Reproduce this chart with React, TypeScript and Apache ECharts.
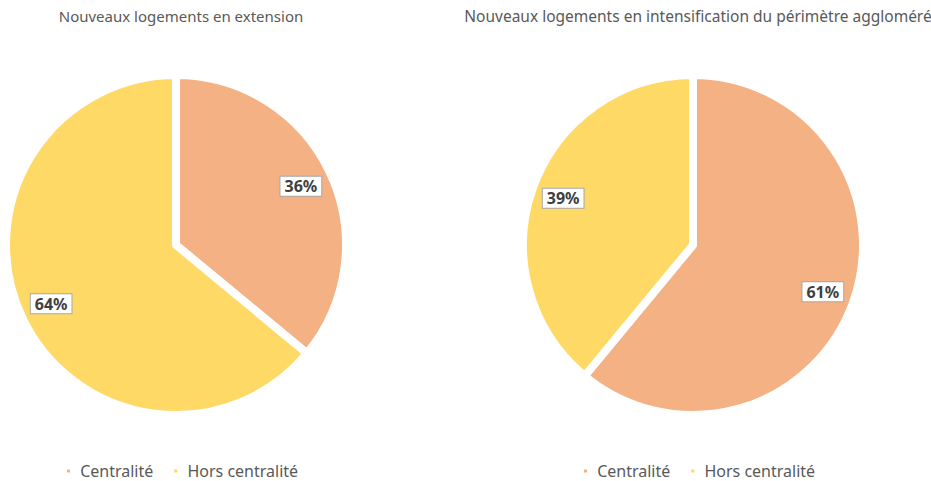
import React, { useEffect, useRef } from "react";
import * as echarts from "echarts";

const categories = ["Centralité", "Hors centralité"];
const extensionValues = [36, 64];
const intensificationValues = [61, 39];
const titles = ["Nouveaux logements en extension", "Nouveaux logements en intensification du périmètre aggloméré"];
const colors = ["#F4B183", "#FFD966"];

export default function App() {
  const ref = useRef<HTMLDivElement>(null);
  useEffect(() => {
    document.body.style.margin = "0";
    const chart = echarts.init(ref.current!, null, { renderer: "svg" });
    const font = "'Noto Sans', sans-serif";
    const mk = (vals: number[]) => categories.map((c, i) => ({ name: c, value: vals[i] }));
    const pies = [
      { center: [176, 245], vals: extensionValues },
      { center: [693, 245], vals: intensificationValues },
    ];
    const series: any[] = [];
    pies.forEach((p) => {
      series.push({
        type: "pie",
        center: p.center,
        radius: 170,
        startAngle: 90,
        clockwise: true,
        data: mk(p.vals),
        label: { show: false },
        labelLine: { show: false },
        itemStyle: { borderColor: "#ffffff", borderWidth: 8 },
        emphasis: { disabled: true },
        silent: true,
      });
      series.push({
        type: "pie",
        center: p.center,
        radius: [104, 166],
        startAngle: 90,
        clockwise: true,
        data: mk(p.vals),
        itemStyle: { color: "transparent", borderWidth: 0 },
        labelLine: { show: false },
        label: {
          show: true,
          position: "inside",
          formatter: "{c}%",
          color: "#404040",
          fontWeight: "bold",
          fontSize: 16,
          fontFamily: font,
          backgroundColor: "#ffffff",
          borderColor: "#a6a6a6",
          borderWidth: 1,
          padding: [2, 4, 1, 4],
        },
        emphasis: { disabled: true },
        silent: true,
      });
    });
    const titleStyle = { fontSize: 15, fontWeight: "normal", color: "#595959", fontFamily: font };
    const legendBase = {
      data: categories,
      top: 463,
      padding: 0,
      icon: "rect",
      itemWidth: 5,
      itemHeight: 5,
      itemGap: 19,
      formatter: (n: string) => " " + n,
      textStyle: { fontSize: 16, lineHeight: 16, color: "#595959", fontFamily: font },
      selectedMode: false,
    };
    chart.setOption({
      animation: false,
      color: colors,
      title: [
        { text: titles[0], left: 176, top: 3, textAlign: "center", textStyle: titleStyle },
        { text: titles[1], left: 693, top: 3, textAlign: "center", textStyle: { ...titleStyle, fontSize: 15.5 } },
      ],
      legend: [
        { ...legendBase, left: 65 },
        { ...legendBase, left: 582 },
      ],
      series,
    });
    return () => chart.dispose();
  }, []);
  return <div ref={ref} style={{ width: 931, height: 481 }} />;
}
